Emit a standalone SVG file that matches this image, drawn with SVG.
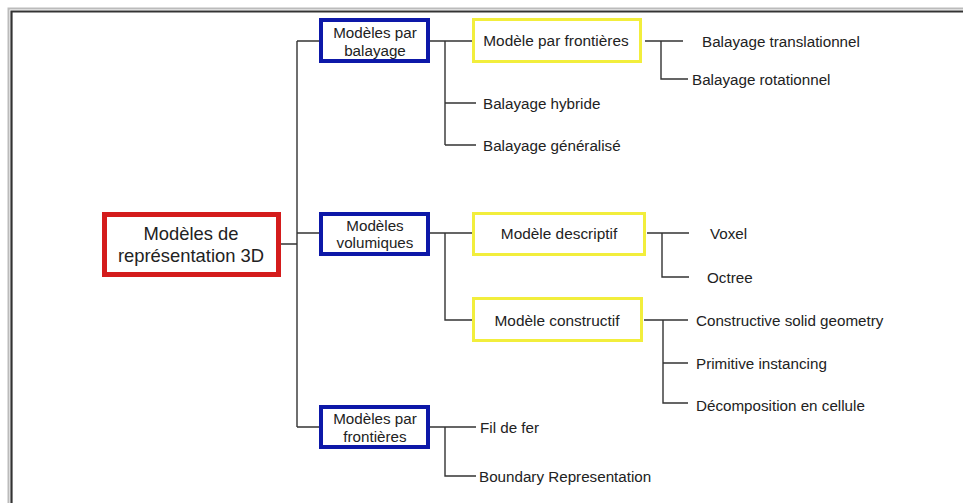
<svg xmlns="http://www.w3.org/2000/svg" width="963" height="503" viewBox="0 0 963 503">
<style>
text{font-family:"Liberation Sans",Arial,sans-serif;fill:#222;dominant-baseline:central}
.c{text-anchor:middle}
.leaf{font-size:15.2px}
.bt{font-size:15.2px}
.yt{font-size:15.4px}
.rt{font-size:18.4px}
.red{fill:#fff;stroke:#d41c1c;stroke-width:5}
.blue{fill:#fff;stroke:#0d18a8;stroke-width:4}
.yel{fill:#fff;stroke:#f2ee3c;stroke-width:3}
.ln{fill:none;stroke:#333;stroke-width:1.4}
</style>
<rect width="963" height="503" fill="#fff"/>
<g id="frame" fill="none">
<path d="M8.5 503V8.5H963" stroke="#bbb" stroke-width="2"/>
<path d="M11.5 503V11.5H963" stroke="#333" stroke-width="2.2"/>
</g>
<g id="connectors" class="ln">
<path d="M281 244H297M297 41V427M297 41H319M297 233H319M297 427H319"/>
<path d="M430 41H472M445 41V145M445 103H476M445 145H476"/>
<path d="M645 41H683M661 41V79H688"/>
<path d="M430 233H472M445 233V320H472"/>
<path d="M647 233H689M662 233V277H689"/>
<path d="M644 320H688M663 320V403H688M663 363H688"/>
<path d="M430 427H476M445 427V476H476"/>
</g>
<g id="root"><rect class="red" x="104.5" y="214.5" width="174" height="60"/>
<text class="c rt" x="191" y="233">Modèles de</text>
<text class="c rt" x="191" y="255">représentation 3D</text></g>
<g id="balayage"><rect class="blue" x="321" y="20" width="107" height="41"/>
<text class="c bt" x="375" y="32">Modèles par</text>
<text class="c bt" x="375" y="50">balayage</text></g>
<g id="volumiques"><rect class="blue" x="321" y="214" width="107" height="40"/>
<text class="c bt" x="375" y="225">Modèles</text>
<text class="c bt" x="375" y="242">volumiques</text></g>
<g id="frontieres"><rect class="blue" x="321" y="407" width="107" height="40"/>
<text class="c bt" x="375" y="418">Modèles par</text>
<text class="c bt" x="375" y="436">frontières</text></g>
<g id="modele-frontieres"><rect class="yel" x="473.5" y="19.5" width="167" height="42"/>
<text class="c yt" x="556" y="40">Modèle par frontières</text></g>
<g id="modele-descriptif"><rect class="yel" x="473.5" y="213.5" width="171" height="41"/>
<text class="c yt" x="559" y="233">Modèle descriptif</text></g>
<g id="modele-constructif"><rect class="yel" x="473.5" y="298.5" width="168" height="42"/>
<text class="c yt" x="557" y="320">Modèle constructif</text></g>
<g id="leaf-translationnel"><text class="leaf" x="702" y="41">Balayage translationnel</text></g>
<g id="leaf-rotationnel"><text class="leaf" x="692" y="79">Balayage rotationnel</text></g>
<g id="leaf-hybride"><text class="leaf" x="483" y="103">Balayage hybride</text></g>
<g id="leaf-generalise"><text class="leaf" x="483" y="145">Balayage généralisé</text></g>
<g id="leaf-voxel"><text class="leaf" x="710" y="233">Voxel</text></g>
<g id="leaf-octree"><text class="leaf" x="707" y="277">Octree</text></g>
<g id="leaf-csg"><text class="leaf" x="696" y="320">Constructive solid geometry</text></g>
<g id="leaf-primitive"><text class="leaf" x="696" y="363">Primitive instancing</text></g>
<g id="leaf-decomposition"><text class="leaf" x="696" y="405">Décomposition en cellule</text></g>
<g id="leaf-fil"><text class="leaf" x="480" y="427">Fil de fer</text></g>
<g id="leaf-brep"><text class="leaf" x="479" y="476">Boundary Representation</text></g>
</svg>
